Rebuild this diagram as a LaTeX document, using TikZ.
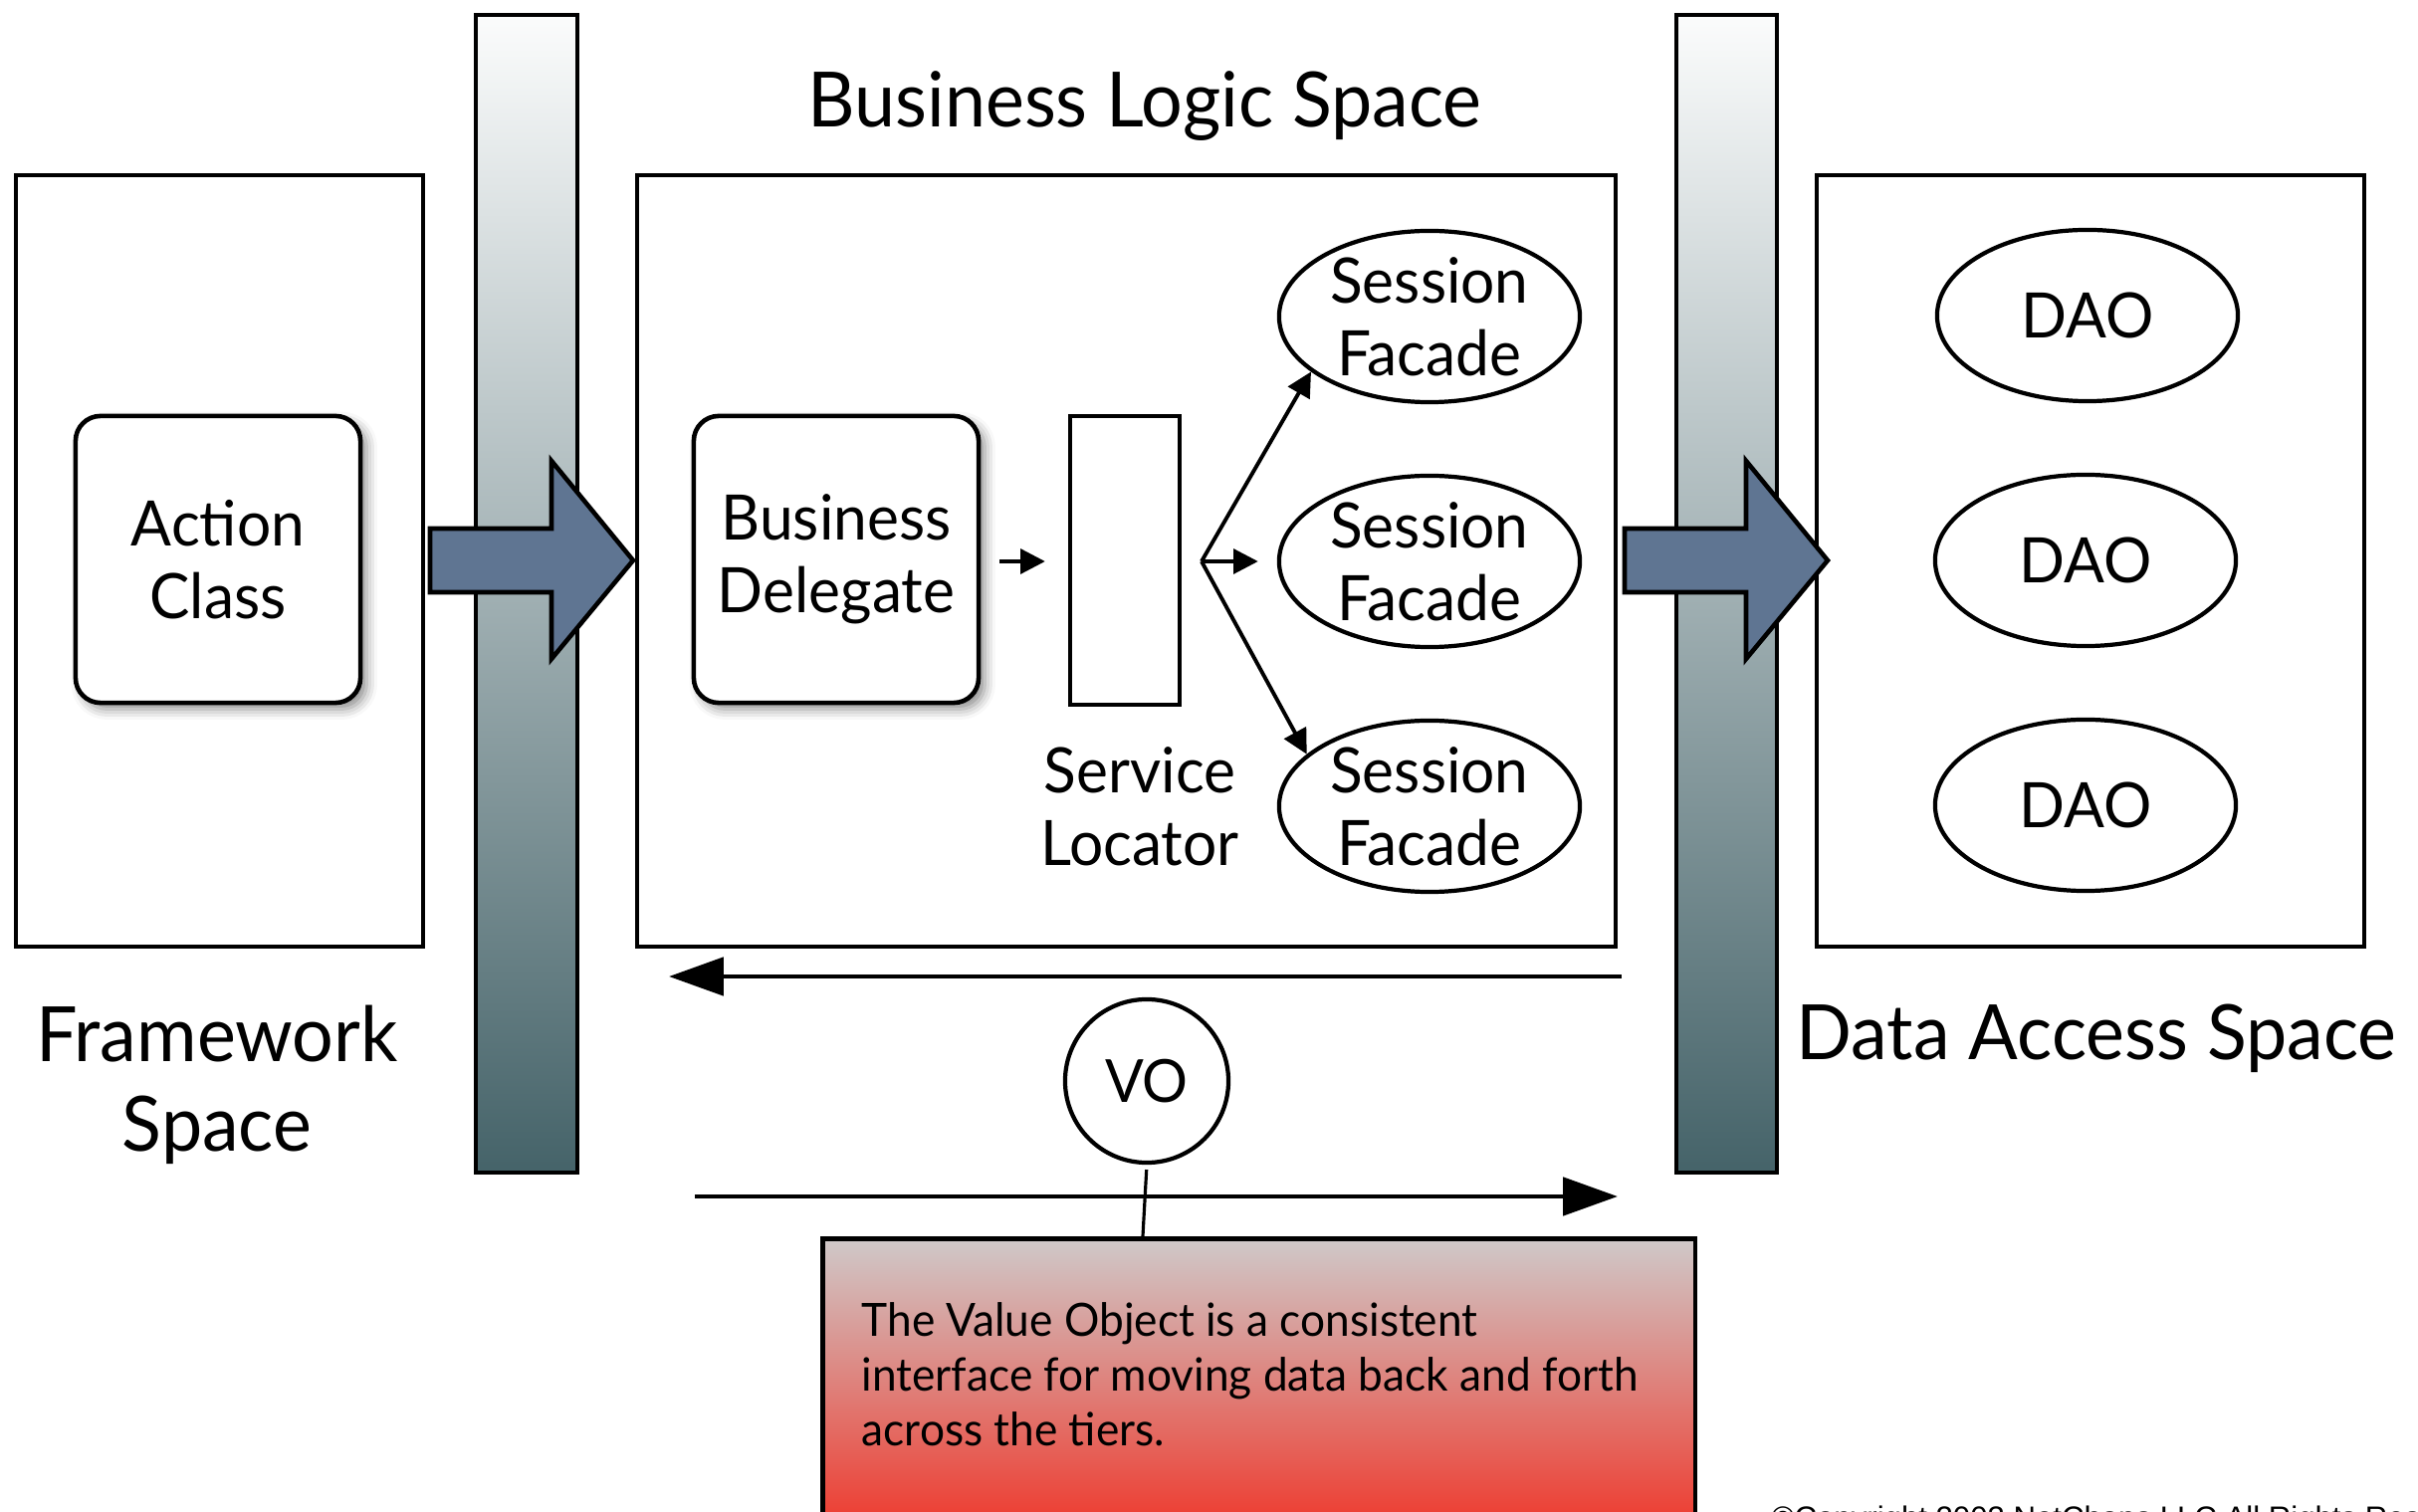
\documentclass[tikz,border=0pt]{standalone}
\usepackage{fontspec}
\setmainfont{Lato}[FakeStretch=0.96]
\newfontfamily\cpyfont{Liberation Sans}
\usetikzlibrary{arrows.meta,shapes.geometric,shadows.blur}

\definecolor{barTop}{RGB}{251,252,252}
\definecolor{barMid}{RGB}{172,184,187}
\definecolor{barBot}{RGB}{69,99,105}
\definecolor{blockFill}{RGB}{95,117,146}
\definecolor{noteTop}{RGB}{207,201,201}
\definecolor{noteBot}{RGB}{238,58,46}

\tikzset{
  tierframe/.style={draw, line width=1.4pt},
  tierbar/.style={draw, line width=1.4pt, top color=barTop, middle color=barMid, bottom color=barBot},
  blockarrow/.style={draw, line width=1.3pt, fill=blockFill, line join=miter},
  label/.style={font=\fontsize{21.8}{25.6}\selectfont, inner sep=0pt},
  roundbox/.style={draw, line width=1.3pt, rounded corners=0.25cm, fill=white,
    minimum width=2.86cm, minimum height=2.88cm, align=center, inner sep=0pt,
    font=\fontsize{17.9}{20.8}\selectfont,
    blur shadow={shadow xshift=1.8pt, shadow yshift=-1.8pt, shadow blur radius=3pt, shadow opacity=45}},
  locbox/.style={draw, line width=1.2pt, minimum width=1.10cm, minimum height=2.90cm, inner sep=0pt},
  facade/.style={ellipse, draw, line width=1.2pt, minimum width=3.02cm, minimum height=1.72cm,
    inner sep=0pt, align=center, font=\fontsize{17.9}{20.8}\selectfont},
  smalltext/.style={align=center, inner sep=0pt, font=\fontsize{17.9}{20.8}\selectfont},
  flow/.style={-{Triangle[length=7pt,width=7pt]}, line width=1.1pt},
  voflow/.style={-{Triangle[length=15.6pt,width=10.8pt]}, line width=1.4pt},
  vobubble/.style={circle, draw, line width=1.2pt, minimum size=1.64cm, inner sep=0pt,
    font=\fontsize{17}{20}\selectfont},
  notebox/.style={draw, line width=1.4pt, top color=noteTop, bottom color=noteBot,
    minimum width=8.76cm, minimum height=2.90cm, inner sep=0pt},
  tether/.style={line width=0.9pt}
}

\begin{document}
\begin{tikzpicture}[x=0.01cm,y=-0.01cm]
\useasboundingbox (0,0) rectangle (2429,1519);
\clip (0,0) rectangle (2429,1519);

% tier frames
\draw[tierframe] (16,176) rectangle (425,951);
\draw[tierframe] (640,176) rectangle (1623,951);
\draw[tierframe] (1825,176) rectangle (2375,951);

% tier boundary bars
\draw[tierbar] (478,15) rectangle (580,1178);
\draw[tierbar] (1684,15) rectangle (1785,1178);

% block arrows across the boundaries
\draw[blockarrow] (432,531) -- (554,531) -- (554,463) -- (636,563) -- (554,662) -- (554,595) -- (432,595) -- cycle;
\draw[blockarrow] (1632,531) -- (1754,531) -- (1754,463) -- (1836,563) -- (1754,662) -- (1754,595) -- (1632,595) -- cycle;

% tier titles
\node[label, anchor=base] (blTitle) at (1150,128) {Business Logic Space};
\node[label, align=center] (fwTitle) at (218,1090) {Framework\\Space};
\node[label, anchor=base] (daTitle) at (2106,1065) {Data Access Space};

% framework tier
\node[roundbox] (action) at (219,562) {Action\\Class};

% business tier
\node[roundbox] (deleg) at (840,562) {Business\\Delegate};
\node[locbox] (locator) at (1130,563) {};
\node[smalltext] (locLabel) at (1145,810) {Service\\Locator};
\node[facade] (sf1) at (1436,318) {Session\\Facade};
\node[facade] (sf2) at (1436,564) {Session\\Facade};
\node[facade] (sf3) at (1436,810) {Session\\Facade};

\coordinate (fork) at (1207,564);
\draw[flow, shorten <=0.19cm, shorten >=0.23cm] (deleg.east |- fork) -- (locator.west |- fork);
\draw[flow] (fork) -- (sf1.205);
\draw[flow, shorten >=0.19cm] (fork) -- (sf2.west);
\draw[flow] (fork) -- (sf3.157);

% data access tier
\node[facade] (dao1) at (2097,317) {DAO};
\node[facade] (dao2) at (2095,563) {DAO};
\node[facade] (dao3) at (2095,809) {DAO};

% value object exchange
\coordinate (backR) at (1629,981);
\coordinate (backL) at (672,981);
\coordinate (fwdL) at (698,1202);
\coordinate (fwdR) at (1625,1202);
\draw[voflow] (backR) -- (backL);
\draw[voflow] (fwdL) -- (fwdR);

\node[vobubble] (vo) at (1152,1086) {VO};
\node[notebox, anchor=north west] (note) at (824,1242) {};
\coordinate (tetherEnd) at (1148,1242);
\draw[tether, shorten <=1.4pt] (vo.south) -- (tetherEnd);

% the base anchor of a multi-line node sits on its last line
\node[anchor=base west, align=left, inner sep=0pt, font=\fontsize{13.1}{15.6}\selectfont] (noteText) at (865,1452)
  {The Value Object is a consistent\\interface for moving data back and forth\\across the tiers.};

% footer
\node[anchor=base west, inner sep=0pt, font=\cpyfont\fontsize{8.86}{10}\selectfont] (copyright) at (1779,1535)
  {©Copyright 2003 NetChaps LLC All Rights Reserved.};
\end{tikzpicture}
\end{document}
